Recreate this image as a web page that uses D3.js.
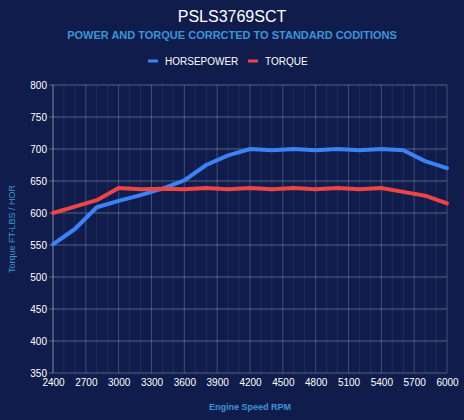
<!DOCTYPE html>
<html>
<head>
<meta charset="utf-8">
<script src="https://cdn.jsdelivr.net/npm/d3@7"></script>
<style>
  html, body { margin: 0; padding: 0; background: #101d4c; }
  svg { display: block; font-family: "Liberation Sans", Arial, sans-serif; }
</style>
</head>
<body>
<div id="chart"></div>
<script>
// dyno sheet values, one point every 200 rpm
const rpm = [2400, 2600, 2800, 3000, 3200, 3400, 3600, 3800, 4000, 4200,
             4400, 4600, 4800, 5000, 5200, 5400, 5600, 5800, 6000];
const horsepower = [551, 575, 609, 619, 628, 638, 651, 675, 690, 700,
                    698, 700, 698, 700, 698, 700, 698, 681, 670];
const torque = [600, 610, 620, 639, 637, 638, 637, 639, 637, 639,
                637, 639, 637, 639, 637, 639, 633, 627, 615];
const xTicks = [2400, 2700, 3000, 3300, 3600, 3900, 4200, 4500, 4800, 5100, 5400, 5700, 6000];
const yTicks = [350, 400, 450, 500, 550, 600, 650, 700, 750, 800];
const seriesNames = ["HORSEPOWER", "TORQUE"];
const seriesColors = ["#3b82f6", "#ef4444"];

const width = 464, height = 420;
const margin = {top: 85, right: 17, bottom: 47, left: 53};

const svg = d3.select("#chart").append("svg")
    .attr("width", width)
    .attr("height", height);

svg.append("rect").attr("width", width).attr("height", height).attr("fill", "#101d4c");

const x = d3.scaleLinear().domain([2400, 6000]).range([margin.left, width - margin.right]);
const y = d3.scaleLinear().domain([350, 800]).range([height - margin.bottom, margin.top]);

// titles
svg.append("text")
    .attr("x", width / 2).attr("y", 22)
    .attr("text-anchor", "middle")
    .attr("fill", "#ffffff")
    .style("font-size", "16px")
    .text("PSLS3769SCT");

svg.append("text")
    .attr("x", width / 2).attr("y", 39)
    .attr("text-anchor", "middle")
    .attr("fill", "#3a95d8")
    .style("font-size", "11px")
    .style("font-weight", "bold")
    .text("POWER AND TORQUE CORRCTED TO STANDARD CODITIONS");

// legend
const legend = svg.append("g");
const legendX = [148, 248];
seriesNames.forEach((name, i) => {
    legend.append("rect")
        .attr("x", legendX[i]).attr("y", 59.5)
        .attr("width", 10).attr("height", 3)
        .attr("fill", seriesColors[i]);
    legend.append("text")
        .attr("x", legendX[i] + 17).attr("y", 64.5)
        .attr("fill", "#ffffff")
        .style("font-size", "10px")
        .text(name);
});

// grid: minor verticals every 100 rpm, majors at ticks
const grid = svg.append("g");
grid.selectAll("line.minor")
    .data(d3.range(2400, 6001, 100))
    .join("line")
    .attr("x1", d => x(d)).attr("x2", d => x(d))
    .attr("y1", y(800)).attr("y2", y(350))
    .attr("stroke", "#ffffff")
    .attr("stroke-opacity", 0.07);
grid.selectAll("line.vmajor")
    .data(xTicks)
    .join("line")
    .attr("x1", d => x(d)).attr("x2", d => x(d))
    .attr("y1", y(800)).attr("y2", y(350))
    .attr("stroke", "#ffffff")
    .attr("stroke-opacity", 0.16);

svg.append("g").selectAll("line")
    .data(yTicks)
    .join("line")
    .attr("x1", x(2400) - 4).attr("x2", x(6000))
    .attr("y1", d => y(d)).attr("y2", d => y(d))
    .attr("stroke", "#ffffff")
    .attr("stroke-opacity", 0.3);

// axes
const xAxis = svg.append("g")
    .attr("transform", `translate(0,${y(350)})`)
    .call(d3.axisBottom(x).tickValues(xTicks).tickSize(0).tickPadding(6).tickFormat(d3.format("d")));
xAxis.select(".domain").remove();
xAxis.selectAll("text").attr("fill", "#ffffff").style("font-size", "10px").style("font-family", "Liberation Sans, Arial, sans-serif");

const yAxis = svg.append("g")
    .attr("transform", `translate(${x(2400)},0)`)
    .call(d3.axisLeft(y).tickValues(yTicks).tickSize(0).tickPadding(6));
yAxis.select(".domain").remove();
yAxis.selectAll("text").attr("fill", "#ffffff").style("font-size", "10px").style("font-family", "Liberation Sans, Arial, sans-serif");

svg.append("line")
    .attr("x1", x(2400)).attr("x2", x(2400))
    .attr("y1", y(800)).attr("y2", y(350))
    .attr("stroke", "#ffffff").attr("stroke-opacity", 0.3);

// axis titles
svg.append("text")
    .attr("x", (x(2400) + x(6000)) / 2).attr("y", 410)
    .attr("text-anchor", "middle")
    .attr("fill", "#3a95d8")
    .style("font-size", "9px")
    .style("font-weight", "bold")
    .text("Engine Speed RPM");

svg.append("text")
    .attr("transform", `translate(15,${(y(350) + y(800)) / 2}) rotate(-90)`)
    .attr("text-anchor", "middle")
    .attr("fill", "#3a95d8")
    .style("font-size", "9px")
    .text("Torque FT-LBS / HOR");

// lines
const line = d3.line()
    .x((d, i) => x(rpm[i]))
    .y(d => y(d));

[horsepower, torque].forEach((vals, i) => {
    svg.append("path")
        .datum(vals)
        .attr("d", line)
        .attr("fill", "none")
        .attr("stroke", seriesColors[i])
        .attr("stroke-width", 4)
        .attr("stroke-linejoin", "round")
        .attr("stroke-linecap", "round");
});
</script>
</body>
</html>
